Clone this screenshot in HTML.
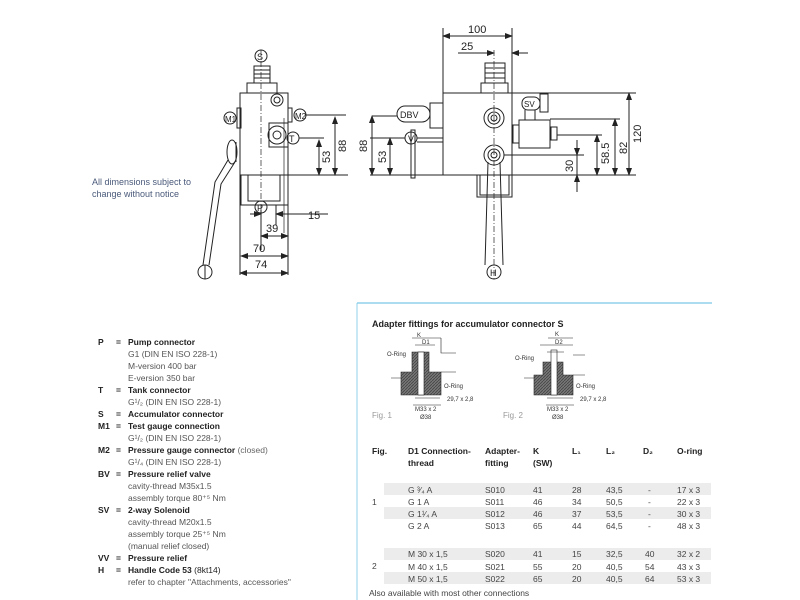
<!DOCTYPE html>
<html><head><meta charset="utf-8"><style>
body{margin:0;background:#fff}
svg{display:block}
text{font-family:"Liberation Sans",Arial,sans-serif}
</style></head><body>
<svg width="800" height="600" viewBox="0 0 800 600" xmlns="http://www.w3.org/2000/svg">
<defs>
<marker id="a" markerWidth="8" markerHeight="6" refX="7" refY="3" orient="auto" markerUnits="userSpaceOnUse"><path d="M0,0 L8,3 L0,6 z" fill="#222"/></marker>
<pattern id="h" width="3" height="3" patternUnits="userSpaceOnUse"><rect width="3" height="3" fill="#777"/><path d="M0,3 L3,0" stroke="#444" stroke-width="0.8"/></pattern>
</defs>
<g fill="none" stroke="#222" stroke-width="1">
<!-- LEFT VIEW -->
<rect x="240" y="93" width="48" height="82"/>
<rect x="247" y="83" width="30" height="10"/>
<rect x="254" y="66" width="16" height="17"/>
<path d="M254,70h16M254,74h16M254,78h16"/>
<circle cx="261" cy="56" r="6"/>
<rect x="241" y="175" width="47" height="30"/>
<rect x="248" y="175" width="32" height="26"/>
<circle cx="261" cy="207" r="6"/>
<circle cx="277" cy="100" r="6"/><circle cx="277" cy="100" r="3"/>
<circle cx="277" cy="135" r="9"/><circle cx="277" cy="135" r="4"/>
<rect x="269" y="123" width="19" height="24"/>
<rect x="237" y="108" width="4" height="20"/>
<rect x="288" y="108" width="4" height="14"/>
<circle cx="230" cy="118" r="6"/>
<circle cx="300" cy="115" r="6"/>
<circle cx="293" cy="138" r="6"/>
<path d="M236,118h1M306,115h40M299,138h25"/>
<path d="M261,50v170" stroke-dasharray="6,2,1,2" stroke-width="0.7"/>
<path d="M284,118v115" stroke-width="0.7"/>
<!-- handle -->
<ellipse cx="232" cy="152" rx="5" ry="12"/>
<path d="M236,142v20"/>
<path d="M228,160 L215,182 L203,265 M235,162 L221,184 L209,265"/>
<circle cx="205" cy="272" r="7"/>
<path d="M205,265v14"/>
<!-- dims left view -->
<path d="M288,175h60"/>
<path d="M335,175v-58" marker-end="url(#a)"/><path d="M335,117v58" marker-end="url(#a)"/>
<path d="M319,175v-35" marker-end="url(#a)"/><path d="M319,140v35" marker-end="url(#a)"/>
<path d="M240,175v100M288,175v100M261,210v40M276,205v20"/>
<path d="M250,214h11" marker-end="url(#a)"/><path d="M288,214h-12" marker-end="url(#a)"/><path d="M288,214h40"/>
<path d="M261,236h27" marker-end="url(#a)"/><path d="M288,236h-27" marker-end="url(#a)"/>
<path d="M241,256h47" marker-end="url(#a)"/><path d="M288,256h-47" marker-end="url(#a)"/>
<path d="M240,273h48" marker-end="url(#a)"/><path d="M288,273h-48" marker-end="url(#a)"/>
<!-- RIGHT VIEW -->
<rect x="443" y="93" width="69" height="82"/>
<rect x="481" y="83" width="27" height="10"/>
<rect x="485" y="63" width="20" height="20"/>
<path d="M485,68h20M485,73h20M485,78h20"/>
<rect x="477" y="175" width="35" height="22"/>
<rect x="480" y="175" width="29" height="20"/>
<circle cx="494" cy="118" r="10"/><circle cx="494" cy="118" r="6"/><circle cx="494" cy="118" r="3"/>
<circle cx="494" cy="155" r="10"/><circle cx="494" cy="155" r="6"/><circle cx="494" cy="155" r="3"/>
<path d="M488,162 L485,265 M500,162 L503,265"/>
<circle cx="494" cy="272" r="7"/>
<path d="M494,50v230" stroke-dasharray="6,2,1,2" stroke-width="0.7"/>
<rect x="397" y="106" width="33" height="16" rx="8"/>
<rect x="430" y="103" width="13" height="25"/>
<rect x="411" y="130" width="4" height="48"/>
<circle cx="411" cy="138" r="6"/>
<path d="M417,138h26M417,142h26"/>
<rect x="522" y="97" width="18" height="13" rx="6"/>
<rect x="540" y="94" width="8" height="18"/>
<rect x="519" y="120" width="31" height="28"/>
<rect x="513" y="125" width="6" height="18"/>
<rect x="551" y="127" width="6" height="13"/>
<path d="M525,110v10M535,110v10"/>
<!-- right view dims -->
<path d="M443,93v-65M512,93v-65"/>
<path d="M443,36h69" marker-end="url(#a)"/><path d="M512,36h-69" marker-end="url(#a)"/>
<path d="M458,53h36" marker-end="url(#a)"/><path d="M528,53h-16" marker-end="url(#a)"/>
<path d="M372,116h25M370,138h35M370,175h73"/>
<path d="M372,175v-59" marker-end="url(#a)"/><path d="M372,116v59" marker-end="url(#a)"/>
<path d="M390,175v-37" marker-end="url(#a)"/><path d="M390,138v37" marker-end="url(#a)"/>
<path d="M512,93h124M512,175h124M550,119h70M557,135h45M504,155h80"/>
<path d="M629,175v-82" marker-end="url(#a)"/><path d="M629,93v82" marker-end="url(#a)"/>
<path d="M615,175v-56" marker-end="url(#a)"/><path d="M615,119v56" marker-end="url(#a)"/>
<path d="M597,175v-40" marker-end="url(#a)"/><path d="M597,135v40" marker-end="url(#a)"/>
<path d="M577,140v15" marker-end="url(#a)"/><path d="M577,192v-17" marker-end="url(#a)"/><path d="M577,155v20"/>
</g>
<g font-size="11" fill="#222">
<text x="257" y="60" font-size="9">S</text><text x="257" y="211" font-size="9">P</text>
<text x="225" y="122" font-size="8">M1</text><text x="295" y="119" font-size="8">M2</text><text x="289" y="142" font-size="9">T</text>
<text x="308" y="219">15</text><text x="266" y="232">39</text><text x="253" y="252">70</text><text x="255" y="268">74</text>
<text x="346" y="152" transform="rotate(-90 346 152)">88</text><text x="330" y="163" transform="rotate(-90 330 163)">53</text>
<text x="468" y="33">100</text><text x="461" y="50">25</text>
<text x="400" y="118" font-size="9">DBV</text><text x="408" y="142" font-size="9">V</text>
<text x="524" y="107" font-size="8">SV</text><text x="490" y="276" font-size="9">H</text>
<text x="367" y="152" transform="rotate(-90 367 152)">88</text><text x="386" y="163" transform="rotate(-90 386 163)">53</text>
<text x="641" y="143" transform="rotate(-90 641 143)">120</text><text x="627" y="154" transform="rotate(-90 627 154)">82</text>
<text x="609" y="164" transform="rotate(-90 609 164)">58.5</text><text x="573" y="172" transform="rotate(-90 573 172)">30</text>
</g>
<text x="92" y="185" font-size="9" fill="#4a5a7a">All dimensions subject to</text>
<text x="92" y="197" font-size="9" fill="#4a5a7a">change without notice</text>
<!-- right panel -->
<line x1="357" y1="303" x2="712" y2="303" stroke="#8fd0ea" stroke-width="1.5"/>
<line x1="357" y1="303" x2="357" y2="600" stroke="#8fd0ea" stroke-width="1"/>
<text x="372" y="327" font-size="9" font-weight="bold" fill="#222">Adapter fittings for accumulator connector S</text>
<g stroke="#222" stroke-width="0.6" fill="none">
<path d="M412,352 L412,372 L401,372 L401,395 L441,395 L441,372 L429,372 L429,352 z" fill="url(#h)"/>
<rect x="418" y="352" width="6" height="43" fill="#fff"/>
<path d="M412,338h29M415,345h20M441,338v15h15M441,372h15M401,378h-10M413,405h28M415,398h25"/>
<path d="M543,362 L543,375 L534,375 L534,395 L573,395 L573,375 L563,375 L563,362 z" fill="url(#h)"/>
<rect x="551" y="350" width="6" height="45" fill="#fff"/>
<path d="M540,345h33M547,352h17M548,338h25M573,355h12M573,375h12M534,378h-10M546,405h28M547,398h26"/>
</g>
<g font-size="6" fill="#333">
<text x="417" y="337">K</text><text x="422" y="344">D1</text><text x="387" y="356">O-Ring</text><text x="444" y="388">O-Ring</text><text x="447" y="401">29,7 x 2,8</text>
<text x="415" y="411">M33 x 2</text><text x="420" y="419">Ø38</text>
<text x="555" y="336">K</text><text x="555" y="344">D2</text><text x="515" y="360">O-Ring</text><text x="576" y="388">O-Ring</text><text x="580" y="401">29,7 x 2,8</text>
<text x="547" y="411">M33 x 2</text><text x="552" y="419">Ø38</text>
</g>
<text x="372" y="418" font-size="8" fill="#999">Fig. 1</text><text x="503" y="418" font-size="8" fill="#999">Fig. 2</text>
<g fill="#ececec"><rect x="384" y="483" width="327" height="12"/><rect x="384" y="507" width="327" height="12"/><rect x="384" y="548" width="327" height="12"/><rect x="384" y="572" width="327" height="12"/></g>
<g font-size="8.5" font-weight="bold" fill="#222">
<text x="372" y="454">Fig.</text><text x="408" y="454">D1 Connection-</text><text x="408" y="466">thread</text>
<text x="485" y="454">Adapter-</text><text x="485" y="466">fitting</text><text x="533" y="454">K</text><text x="533" y="466">(SW)</text>
<text x="572" y="454">L₁</text><text x="606" y="454">L₂</text><text x="643" y="454">D₂</text><text x="677" y="454">O-ring</text>
</g>
<g font-size="8.5" fill="#444">
<text x="372" y="505">1</text><text x="372" y="569">2</text>
<text x="408" y="493">G  ³⁄₄ A</text><text x="485" y="493">S010</text><text x="533" y="493">41</text><text x="572" y="493">28</text><text x="606" y="493">43,5</text><text x="648" y="493">-</text><text x="677" y="493">17 x 3</text>
<text x="408" y="505">G  1 A</text><text x="485" y="505">S011</text><text x="533" y="505">46</text><text x="572" y="505">34</text><text x="606" y="505">50,5</text><text x="648" y="505">-</text><text x="677" y="505">22 x 3</text>
<text x="408" y="517">G  1¹⁄₄ A</text><text x="485" y="517">S012</text><text x="533" y="517">46</text><text x="572" y="517">37</text><text x="606" y="517">53,5</text><text x="648" y="517">-</text><text x="677" y="517">30 x 3</text>
<text x="408" y="529">G  2 A</text><text x="485" y="529">S013</text><text x="533" y="529">65</text><text x="572" y="529">44</text><text x="606" y="529">64,5</text><text x="648" y="529">-</text><text x="677" y="529">48 x 3</text>
<text x="408" y="557">M 30 x 1,5</text><text x="485" y="557">S020</text><text x="533" y="557">41</text><text x="572" y="557">15</text><text x="606" y="557">32,5</text><text x="645" y="557">40</text><text x="677" y="557">32 x 2</text>
<text x="408" y="570">M 40 x 1,5</text><text x="485" y="570">S021</text><text x="533" y="570">55</text><text x="572" y="570">20</text><text x="606" y="570">40,5</text><text x="645" y="570">54</text><text x="677" y="570">43 x 3</text>
<text x="408" y="582">M 50 x 1,5</text><text x="485" y="582">S022</text><text x="533" y="582">65</text><text x="572" y="582">20</text><text x="606" y="582">40,5</text><text x="645" y="582">64</text><text x="677" y="582">53 x 3</text>
<text x="369" y="596">Also available with most other connections</text>
</g>
<!-- legend -->
<g font-size="8.5" fill="#222">
<g font-weight="bold">
<text x="98" y="345">P</text><text x="98" y="393">T</text><text x="98" y="417">S</text><text x="98" y="429">M1</text><text x="98" y="453">M2</text><text x="98" y="477">BV</text><text x="98" y="513">SV</text><text x="98" y="561">VV</text><text x="98" y="573">H</text>
<text x="116" y="345">=</text><text x="116" y="393">=</text><text x="116" y="417">=</text><text x="116" y="429">=</text><text x="116" y="453">=</text><text x="116" y="477">=</text><text x="116" y="513">=</text><text x="116" y="561">=</text><text x="116" y="573">=</text>
<text x="128" y="345">Pump connector</text><text x="128" y="393">Tank connector</text><text x="128" y="417">Accumulator connector</text><text x="128" y="429">Test gauge connection</text><text x="128" y="453">Pressure gauge connector <tspan font-weight="normal" fill="#666">(closed)</tspan></text><text x="128" y="477">Pressure relief valve</text><text x="128" y="513">2-way Solenoid</text><text x="128" y="561">Pressure relief</text><text x="128" y="573">Handle Code 53 <tspan font-weight="normal">(8kt14)</tspan></text>
</g>
<g fill="#555">
<text x="128" y="357">G1 (DIN EN ISO 228-1)</text><text x="128" y="369">M-version 400 bar</text><text x="128" y="381">E-version  350 bar</text>
<text x="128" y="405">G¹/₂ (DIN EN ISO 228-1)</text><text x="128" y="441">G¹/₂ (DIN EN ISO 228-1)</text><text x="128" y="465">G¹/₄ (DIN EN ISO 228-1)</text>
<text x="128" y="489">cavity-thread M35x1.5</text><text x="128" y="501">assembly torque 80⁺⁵ Nm</text>
<text x="128" y="525">cavity-thread M20x1.5</text><text x="128" y="537">assembly torque 25⁺⁵ Nm</text><text x="128" y="549">(manual relief closed)</text>
<text x="128" y="585">refer to chapter "Attachments, accessories"</text>
</g>
</g>
</svg>
</body></html>
